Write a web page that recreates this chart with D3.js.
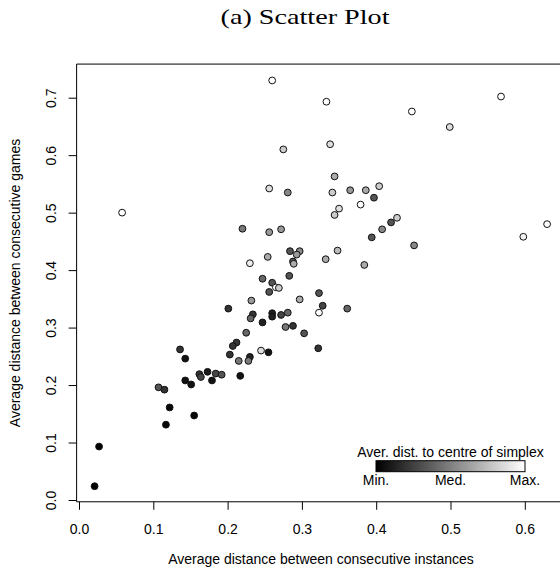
<!DOCTYPE html>
<meta charset="utf-8">
<script src="https://cdn.jsdelivr.net/npm/d3@7"></script>
<style>
  body { margin: 0; background: #fff; }
  svg text { font-family: "Liberation Sans", Arial, sans-serif; fill: #000; }
</style>
<div id="chart"></div>
<script>

// average distance between consecutive instances (x) / games (y)
var xVals = [0.260, 0.275, 0.256, 0.281, 0.058, 0.220, 0.256, 0.272, 0.284, 0.297,
             0.293, 0.288, 0.289, 0.230, 0.254, 0.247, 0.283, 0.344, 0.341, 0.365,
             0.386, 0.404, 0.397, 0.379, 0.350, 0.344, 0.420, 0.408, 0.394, 0.348,
             0.332, 0.384, 0.260, 0.265, 0.269, 0.256, 0.232, 0.297, 0.323, 0.201,
             0.328, 0.323, 0.361, 0.234, 0.231, 0.247, 0.260, 0.260, 0.272, 0.281,
             0.278, 0.288, 0.225, 0.212, 0.207, 0.203, 0.215, 0.230, 0.228, 0.245,
             0.255, 0.217, 0.136, 0.143, 0.143, 0.151, 0.162, 0.164, 0.173, 0.179,
             0.184, 0.192, 0.107, 0.115, 0.122, 0.155, 0.117, 0.027, 0.021, 0.303,
             0.322, 0.333, 0.568, 0.448, 0.499, 0.338, 0.428, 0.630, 0.598, 0.451];
var yVals = [0.730, 0.610, 0.542, 0.535, 0.500, 0.472, 0.466, 0.471, 0.433, 0.433,
             0.427, 0.415, 0.411, 0.412, 0.423, 0.385, 0.390, 0.563, 0.535, 0.539,
             0.539, 0.546, 0.526, 0.514, 0.507, 0.496, 0.483, 0.471, 0.457, 0.434,
             0.419, 0.409, 0.378, 0.370, 0.369, 0.362, 0.347, 0.349, 0.360, 0.333,
             0.338, 0.326, 0.333, 0.323, 0.316, 0.309, 0.325, 0.319, 0.322, 0.326,
             0.301, 0.303, 0.291, 0.274, 0.268, 0.253, 0.242, 0.249, 0.242, 0.260,
             0.257, 0.216, 0.262, 0.246, 0.208, 0.201, 0.219, 0.214, 0.223, 0.208,
             0.220, 0.218, 0.196, 0.192, 0.161, 0.147, 0.131, 0.093, 0.024, 0.290,
             0.264, 0.693, 0.702, 0.676, 0.649, 0.619, 0.491, 0.480, 0.458, 0.443];
// average distance to centre of simplex, scaled 0 (min) .. 1 (max)
var shade = [1.00, 0.80, 0.87, 0.53, 1.00, 0.47, 0.60, 0.60, 0.33, 0.53,
             0.60, 0.33, 0.67, 0.93, 0.67, 0.40, 0.33, 0.67, 0.80, 0.60,
             0.67, 0.80, 0.33, 1.00, 0.87, 0.80, 0.33, 0.53, 0.33, 0.73,
             0.67, 0.67, 0.33, 1.00, 0.80, 0.33, 0.60, 0.67, 0.33, 0.20,
             0.27, 1.00, 0.40, 0.20, 0.40, 0.13, 0.13, 0.13, 0.27, 0.40,
             0.47, 0.20, 0.40, 0.20, 0.20, 0.20, 0.47, 0.13, 0.47, 0.87,
             0.07, 0.07, 0.20, 0.07, 0.07, 0.07, 0.20, 0.27, 0.10, 0.07,
             0.27, 0.33, 0.33, 0.20, 0.03, 0.03, 0.03, 0.00, 0.00, 0.33,
             0.20, 1.00, 1.00, 1.00, 0.87, 0.87, 0.80, 1.00, 0.95, 0.53];

var xTicks = [0, 0.1, 0.2, 0.3, 0.4, 0.5, 0.6];
var yTicks = [0, 0.1, 0.2, 0.3, 0.4, 0.5, 0.6, 0.7];
var legendLabels = ["Min.", "Med.", "Max."];

var width = 560, height = 571;
var fs = "14px";

var svg = d3.select("#chart").append("svg")
  .attr("width", width)
  .attr("height", height);

var x = d3.scaleLinear().domain([0, 0.6]).range([79, 524.8]);
var y = d3.scaleLinear().domain([0, 0.7]).range([500, 97.7]);
var grey = d3.scaleLinear().domain([0, 1]).range(["#000000", "#ffffff"]);

// plot box (R extends the data range by 4%)
var x0 = x(-0.0032), x1 = x(0.6545), y0 = y(-0.0031), y1 = y(0.7585);
svg.append("path")
  .attr("d", "M" + x1 + "," + y1 + "H" + x0 + "V" + y0 + "H" + x1)
  .attr("fill", "none")
  .attr("stroke", "#000")
  .attr("stroke-width", 1);

// title
svg.append("text")
  .attr("x", 305).attr("y", 24)
  .attr("text-anchor", "middle")
  .style("font-family", "'Liberation Serif', 'DejaVu Serif', serif")
  .style("font-size", "22px")
  .attr("textLength", 169)
  .attr("lengthAdjust", "spacingAndGlyphs")
  .text("(a) Scatter Plot");

// x axis
var gx = svg.append("g")
  .attr("transform", "translate(0," + y0 + ")")
  .call(d3.axisBottom(x).tickValues(xTicks).tickSize(8).tickFormat(d3.format(".1f")));
gx.select(".domain").remove();
gx.selectAll("text")
  .attr("y", 22)
  .style("font-size", fs);

// y axis
var gy = svg.append("g")
  .attr("transform", "translate(" + x0 + ",0)")
  .call(d3.axisLeft(y).tickValues(yTicks).tickSize(8).tickFormat(d3.format(".1f")));
gy.select(".domain").remove();
gy.selectAll("text")
  .attr("x", null).attr("dy", null)
  .attr("text-anchor", "middle")
  .attr("transform", "translate(-21,0) rotate(-90)")
  .style("font-size", fs);

// axis titles
svg.append("text")
  .attr("x", (x0 + x1) / 2).attr("y", 564)
  .attr("text-anchor", "middle")
  .style("font-size", fs)
  .text("Average distance between consecutive instances");

svg.append("text")
  .attr("transform", "translate(20," + ((y0 + y1) / 2) + ") rotate(-90)")
  .attr("text-anchor", "middle")
  .style("font-size", fs)
  .text("Average distance between consecutive games");

// points
svg.selectAll(".pt")
  .data(d3.range(xVals.length))
  .enter()
  .append("circle")
    .attr("class", "pt")
    .attr("cx", function(i){ return x(xVals[i]); })
    .attr("cy", function(i){ return y(yVals[i]); })
    .attr("r", 3.4)
    .attr("fill", function(i){ return grey(shade[i]); })
    .attr("stroke", "#111")
    .attr("stroke-width", 1);

// legend colour bar
var defs = svg.append("defs");
var grad = defs.append("linearGradient").attr("id", "greyGrad");
grad.append("stop").attr("offset", "0%").attr("stop-color", grey(0));
grad.append("stop").attr("offset", "100%").attr("stop-color", grey(1));

var lx = d3.scaleLinear().domain([0, 1]).range([376, 525]);
svg.append("rect")
  .attr("x", lx(0)).attr("y", 460.7)
  .attr("width", lx(1) - lx(0)).attr("height", 11)
  .attr("fill", "url(#greyGrad)")
  .attr("stroke", "#000")
  .attr("stroke-width", 1);

svg.append("text")
  .attr("x", lx(0.5)).attr("y", 457)
  .attr("text-anchor", "middle")
  .style("font-size", fs)
  .text("Aver. dist. to centre of simplex");

svg.selectAll(".leglab")
  .data(legendLabels)
  .enter()
  .append("text")
    .attr("class", "leglab")
    .attr("x", function(d, i){ return lx(i / 2); })
    .attr("y", 485)
    .attr("text-anchor", "middle")
    .style("font-size", fs)
    .text(function(d){ return d; });

</script>
